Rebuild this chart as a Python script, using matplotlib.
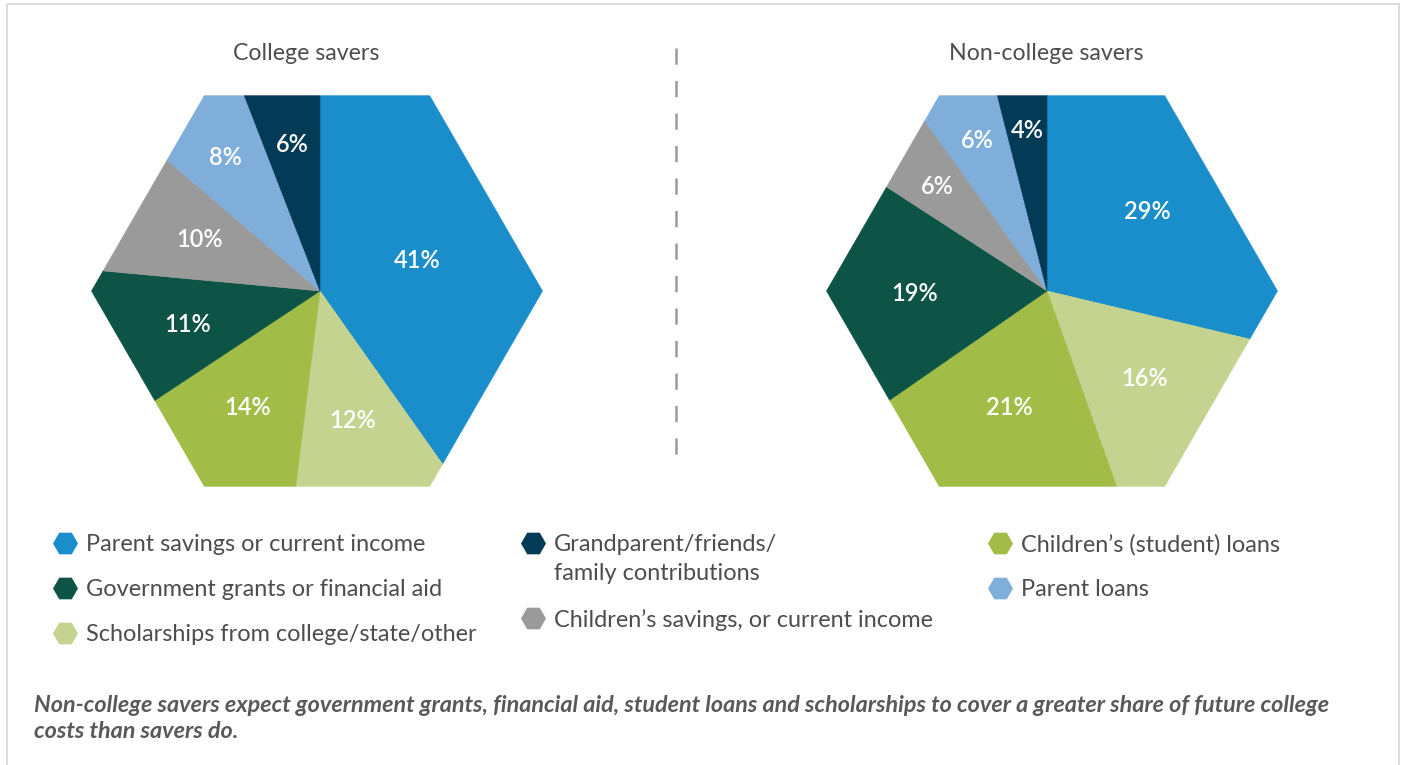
import numpy as np
import matplotlib.pyplot as plt
from matplotlib.patches import Polygon, Rectangle

# sources of college funding, in pie order (clockwise from 12 o'clock)
sources = ["Parent savings or current income",
           "Scholarships from college/state/other",
           "Children\u2019s (student) loans",
           "Government grants or financial aid",
           "Children\u2019s savings, or current income",
           "Parent loans",
           "Grandparent/friends/\nfamily contributions"]
college_savers = [41, 12, 14, 11, 10, 8, 6]
non_college_savers = [29, 16, 21, 19, 6, 6, 4]
titles = ["College savers", "Non-college savers"]
note = ("Non-college savers expect government grants, financial aid, student loans and scholarships to cover a greater share of future college\n"
        "costs than savers do.")

colors = ["#1a8dcb", "#c4d490", "#a1bd47", "#0d5446", "#9a9a9a", "#7faedb", "#033a56"]

# legend layout: (source index, column x, row y)
legend_slots = [(0, 65, 543), (3, 65, 588), (1, 65, 633),
                (6, 533, 543), (4, 533, 618),
                (2, 1000, 543), (5, 1000, 588)]

# label distance from pie centre, per wedge
label_r = [[102, 134, 137, 136, 131, 164, 149],
           [128, 131, 122, 132, 152, 166, 162]]

W, H = 1403, 765
plt.rcParams['font.family'] = ['Lato', 'DejaVu Sans']
fig = plt.figure(figsize=(W / 100, H / 100), dpi=100)
ax = fig.add_axes([0, 0, 1, 1])


def hexagon(cx, cy, r):
    # flat top/bottom, points to the left and right
    ang = np.radians(np.arange(0, 360, 60))
    return np.column_stack([cx + r * np.cos(ang), cy + r * np.sin(ang)])


def ray_hit(c, theta, poly):
    # distance from c to the polygon edge along direction theta
    d = np.array([np.cos(theta), np.sin(theta)])
    best = np.inf
    for p, q in zip(poly, np.roll(poly, -1, axis=0)):
        e = q - p
        den = d[0] * (-e[1]) - d[1] * (-e[0])
        if abs(den) < 1e-12:
            continue
        w = p - c
        t = (w[0] * (-e[1]) - w[1] * (-e[0])) / den
        s = (d[0] * w[1] - d[1] * w[0]) / den
        if t > 0 and -1e-9 <= s <= 1 + 1e-9:
            best = min(best, t)
    return best


def clipped_wedge(c, t1, t2, poly):
    # wedge from angle t1 to t2 (degrees) cut down to the hexagon
    c = np.asarray(c, float)
    corner_ang = np.degrees(np.arctan2(poly[:, 1] - c[1], poly[:, 0] - c[0]))
    angs = [t1, t2]
    for a in corner_ang:
        for a2 in (a - 360, a, a + 360):
            if t1 < a2 < t2:
                angs.append(a2)
    angs = np.sort(angs)
    pts = [c]
    for a in np.radians(angs):
        r = ray_hit(c, a, poly)
        pts.append(c + r * np.array([np.cos(a), np.sin(a)]))
    return np.array(pts)


pies = [(college_savers, (320, 291), (317, 291)),
        (non_college_savers, (1047, 291), (1052, 291))]

for k, (vals, centre, hcentre) in enumerate(pies):
    hex_pts = hexagon(hcentre[0], hcentre[1], 225.5)
    # y axis is flipped below, so counterclock=True reads clockwise on screen
    wedges, _ = ax.pie(vals, colors=colors, startangle=-90, counterclock=True,
                       radius=260, center=centre,
                       wedgeprops=dict(linewidth=0))
    for w, v, r in zip(wedges, vals, label_r[k]):
        # swap each round wedge for the same slice trimmed to the hexagon
        shape = clipped_wedge(centre, w.theta1, w.theta2, hex_pts)
        ax.add_patch(Polygon(shape, closed=True, facecolor=w.get_facecolor(),
                             edgecolor=w.get_facecolor(), lw=0.4, joinstyle='round'))
        w.remove()
        mid = np.radians((w.theta1 + w.theta2) / 2)
        ax.text(centre[0] + r * np.cos(mid), centre[1] + r * np.sin(mid), f"{v}%",
                ha='center', va='center', color='white', fontsize=17,
                fontweight='semibold', zorder=5)
    ax.text(306 if k == 0 else 1046, 53, titles[k], ha='center', va='center',
            fontsize=16.7, color='#4d4d4d')

# divider between the two pies
ax.plot([676, 676], [48, 464], color='#9a9a9a', lw=1.8, ls=(0, (6.5, 6.5)))

for i, x, y in legend_slots:
    ax.plot(x, y, marker='H', markersize=18, color=colors[i], mec='none')
    ax.text(x + 21, y - 9, sources[i], ha='left', va='top', fontsize=16.9,
            color='#4d4d4d', linespacing=1.45)

ax.text(34, 703 - 8, note, ha='left', va='top', fontsize=16.8, color='#595959',
        style='italic', fontweight='bold', linespacing=1.3)

# thin frame around the graphic
ax.add_patch(Rectangle((7, 4), 1392, 800, facecolor='none', edgecolor='#d6d6d6', lw=1.2))

ax.set_xlim(0, W)
ax.set_ylim(H, 0)
ax.set_aspect('auto')
ax.axis('off')

fig.savefig('out.png', dpi=100)
